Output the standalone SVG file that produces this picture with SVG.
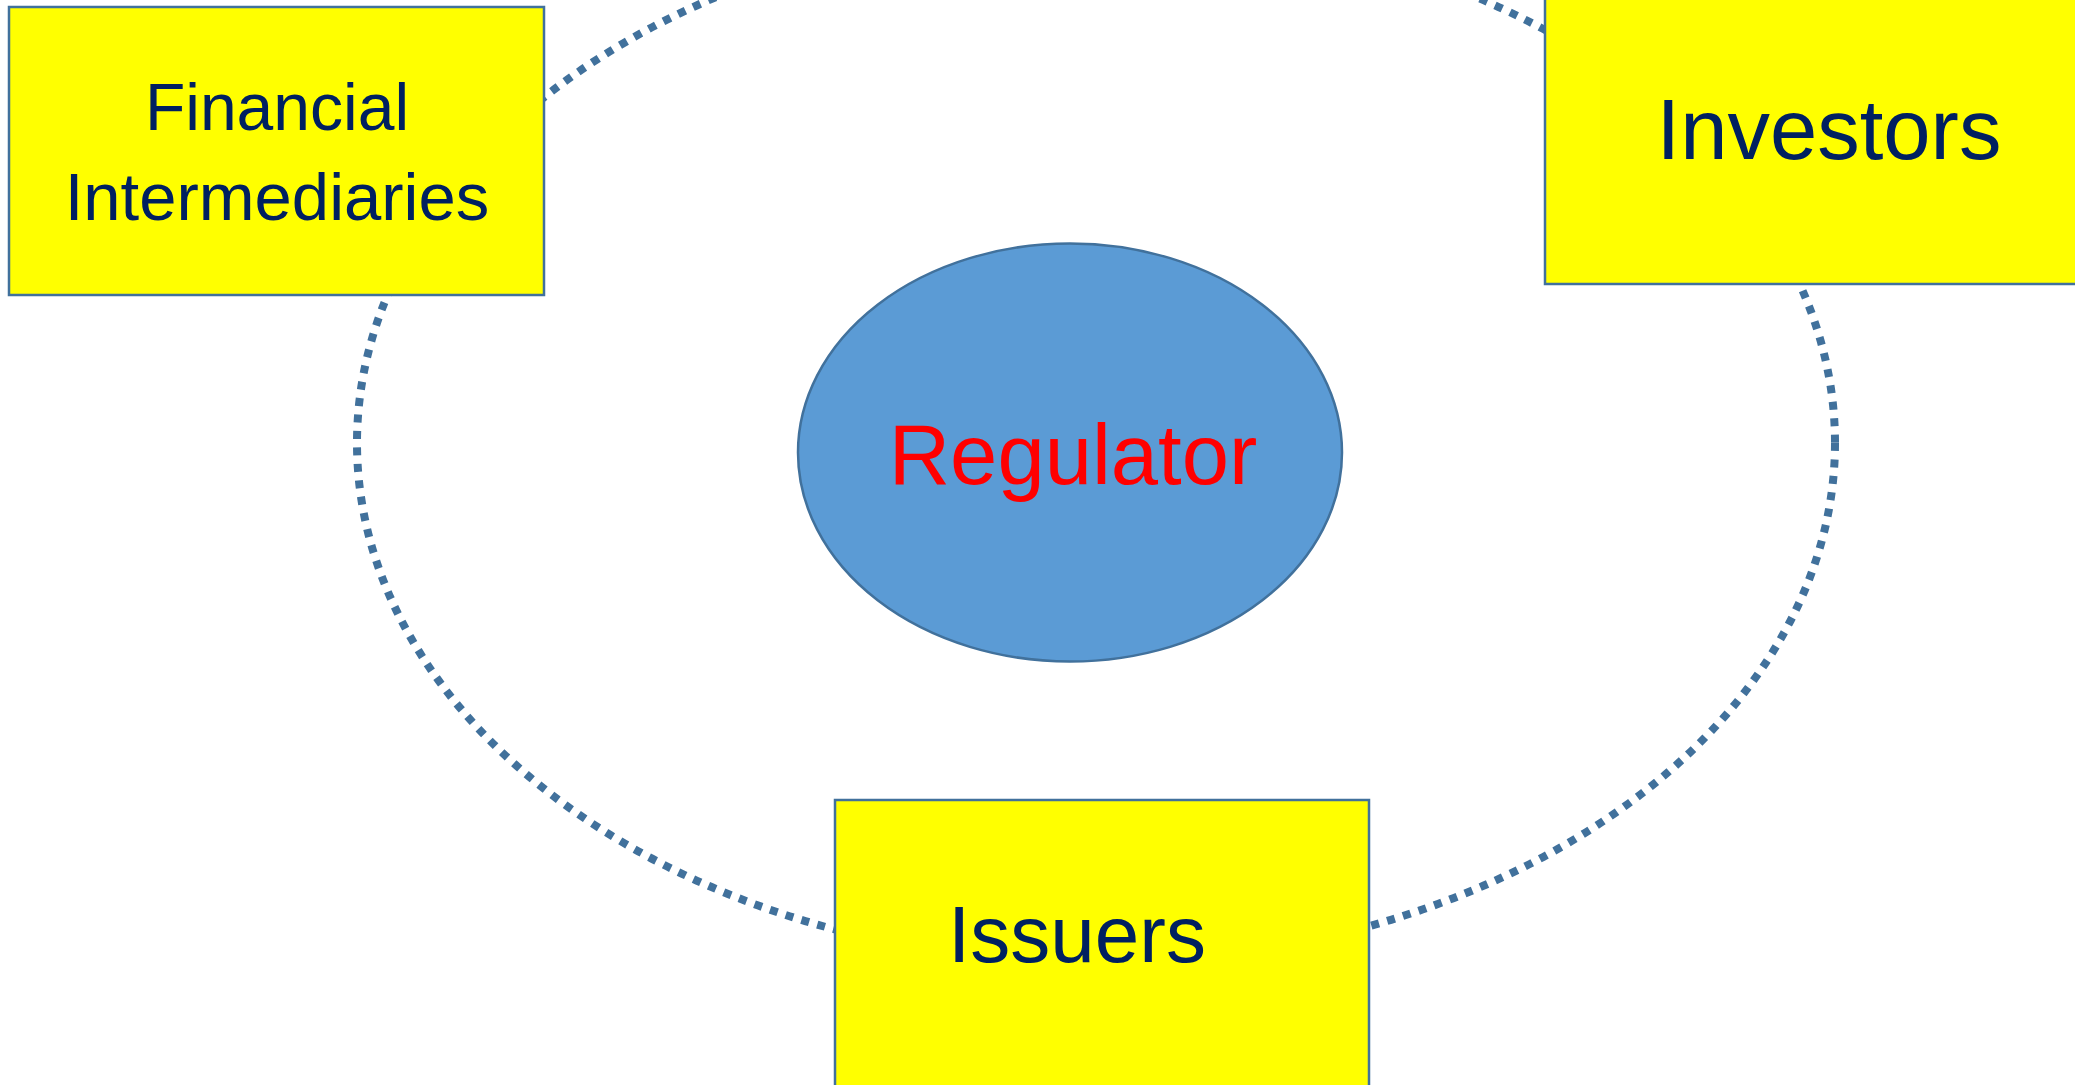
<svg xmlns="http://www.w3.org/2000/svg" width="2075" height="1085" viewBox="0 0 2075 1085">
<style>
.box{fill:#FFFF00;stroke:#41719C;stroke-width:2.5}
.lbl{font-family:"Liberation Sans",Arial,sans-serif;fill:#002060;text-anchor:middle}
.ring{fill:none;stroke:#41719C;stroke-width:8;stroke-dasharray:8 8.5}
</style>
<rect width="2075" height="1085" fill="#FFFFFF"/>
<g id="connectors">
<ellipse class="ring" cx="1096" cy="443" rx="739" ry="520"/>
</g>
<g id="regulator">
<ellipse cx="1070" cy="452.5" rx="272" ry="209" fill="#5B9BD5" stroke="#41719C" stroke-width="2.5"/>
<text x="1073" y="484" font-family="Liberation Sans,Arial,sans-serif" font-size="85" fill="#FF0000" text-anchor="middle">Regulator</text>
</g>
<g id="financial-intermediaries">
<rect class="box" x="9" y="7" width="535" height="288"/>
<text class="lbl" x="277" y="130" font-size="66">Financial</text>
<text class="lbl" x="277" y="220" font-size="67">Intermediaries</text>
</g>
<g id="investors">
<rect class="box" x="1545" y="-30" width="570" height="314"/>
<text class="lbl" x="1829" y="159" font-size="85">Investors</text>
</g>
<g id="issuers">
<rect class="box" x="835" y="800" width="534" height="300"/>
<text class="lbl" x="1077" y="962" font-size="80">Issuers</text>
</g>
</svg>
